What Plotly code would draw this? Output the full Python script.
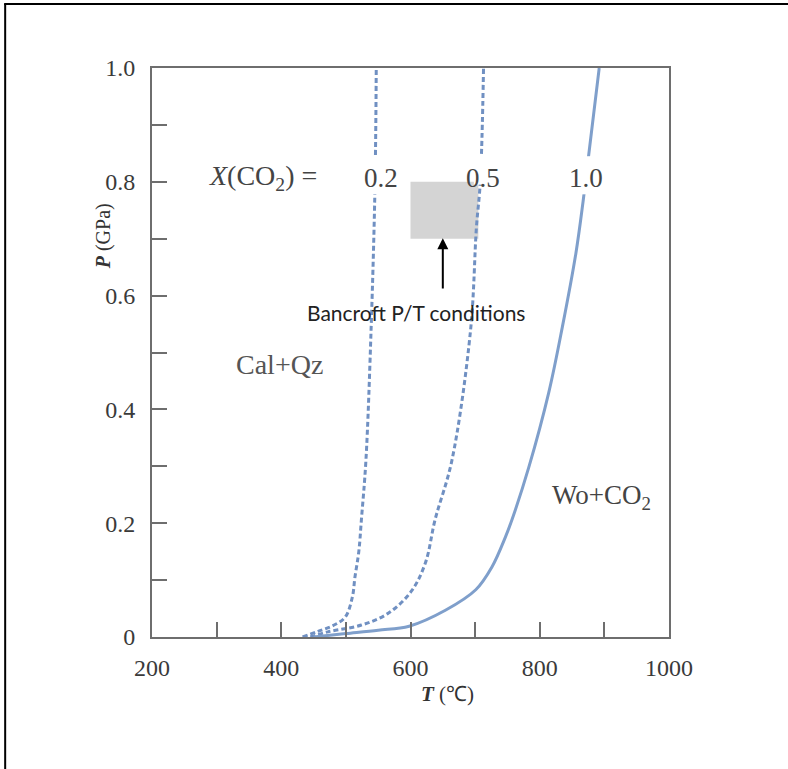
import plotly.graph_objects as go

# ---- data ----
T_x02 = [433, 457, 480, 499, 510, 514, 520, 524, 531, 539, 545, 547]
P_x02 = [0.0, 0.01, 0.02, 0.035, 0.07, 0.105, 0.15, 0.206, 0.31, 0.54, 0.79, 1.0]

T_x05 = [445, 472, 524, 566, 601, 623, 638, 664, 693, 702, 708, 713]
P_x05 = [0.0, 0.009, 0.021, 0.042, 0.08, 0.13, 0.206, 0.31, 0.54, 0.72, 0.8, 1.0]

T_x10 = [450, 500, 550, 598, 654, 701, 726, 747, 757, 783, 814, 835, 856, 867, 875, 892]
P_x10 = [0.0, 0.006, 0.012, 0.019, 0.047, 0.083, 0.123, 0.176, 0.206, 0.298, 0.43,
         0.545, 0.675, 0.765, 0.84, 1.0]

x_ticks = [200, 300, 400, 500, 600, 700, 800, 900, 1000]
x_ticktext = ["200", " ", "400", " ", "600", " ", "800", " ", "1000"]
y_ticks = [0, 0.1, 0.2, 0.3, 0.4, 0.5, 0.6, 0.7, 0.8, 0.9, 1.0]
y_ticktext = ["0", " ", "0.2", " ", "0.4", " ", "0.6", " ", "0.8", " ", "1.0"]

bancroft_T = [600, 705]
bancroft_P = [0.7, 0.8]
label_P = 0.807
curve_labels = [("0.2", 554), ("0.5", 712), ("1.0", 872)]

SERIF = "Liberation Serif, Times New Roman, serif"
DASH_COL = "#7090c2"
SOLID_COL = "#7f9fcb"

fig = go.Figure()
fig.add_trace(go.Scatter(x=T_x02, y=P_x02, mode="lines", line=dict(color=DASH_COL, width=3, dash="5px,3px"),
                         line_shape="spline", showlegend=False, hoverinfo="skip"))
fig.add_trace(go.Scatter(x=T_x05, y=P_x05, mode="lines", line=dict(color=DASH_COL, width=3, dash="5px,3px"),
                         line_shape="spline", showlegend=False, hoverinfo="skip"))
fig.add_trace(go.Scatter(x=T_x10, y=P_x10, mode="lines", line=dict(color=SOLID_COL, width=3),
                         line_shape="spline", showlegend=False, hoverinfo="skip"))

shapes = []
# gray box
shapes.append(dict(type="rect", xref="x", yref="y", x0=bancroft_T[0], x1=bancroft_T[1],
                   y0=bancroft_P[0], y1=bancroft_P[1], fillcolor="#d4d4d4", line=dict(width=0), layer="below"))
# white gaps behind curve labels
for txt, t in curve_labels:
    y0 = 0.795 if txt == "0.5" else 0.778
    shapes.append(dict(type="rect", xref="x", yref="y", x0=t - 14, x1=t + 14, y0=y0, y1=0.845,
                       fillcolor="white", line=dict(width=0), layer="above"))
# outer image border (left and top)
shapes.append(dict(type="line", xref="paper", yref="paper", x0=-0.284, x1=-0.284, y0=1.1125, y1=-0.25,
                   line=dict(color="black", width=2)))
shapes.append(dict(type="line", xref="paper", yref="paper", x0=-0.286, x1=1.25, y0=1.1125, y1=1.1125,
                   line=dict(color="black", width=2)))

annotations = []
for txt, t in curve_labels:
    annotations.append(dict(x=t, y=label_P, xref="x", yref="y", text=txt, showarrow=False,
                            font=dict(family=SERIF, size=27, color="#444444")))
annotations.append(dict(x=372, y=label_P, xref="x", yref="y", text="<i>X</i>(CO<sub>2</sub>) =",
                        showarrow=False, font=dict(family=SERIF, size=28, color="#444444")))
annotations.append(dict(x=650, y=0.701, ax=650, ay=0.61, xref="x", yref="y", axref="x", ayref="y",
                        text="", showarrow=True, arrowhead=2, arrowsize=1.1, arrowwidth=2, arrowcolor="black"))
annotations.append(dict(x=608, y=0.57, xref="x", yref="y", text="Bancroft P/T conditions", showarrow=False,
                        font=dict(family="Lato, sans-serif", size=21, color="#222222")))
annotations.append(dict(x=398, y=0.479, xref="x", yref="y", text="Cal+Qz", showarrow=False,
                        font=dict(family=SERIF, size=28, color="#555555")))
annotations.append(dict(x=895, y=0.246, xref="x", yref="y", text="Wo+CO<sub>2</sub>", showarrow=False,
                        font=dict(family=SERIF, size=27, color="#444444")))
annotations.append(dict(x=-0.094, y=0.705, xref="paper", yref="paper", xanchor="center", yanchor="middle",
                        text="<b><i>P</i></b> (GPa)", textangle=-90, showarrow=False,
                        font=dict(family=SERIF, size=20, color="#333333")))
annotations.append(dict(x=0.571, y=-0.1, xref="paper", yref="paper", xanchor="center", yanchor="middle",
                        text="<b><i>T</i></b> (℃)", showarrow=False,
                        font=dict(family=SERIF, size=21, color="#333333")))

fig.update_layout(
    width=788, height=769,
    margin=dict(l=152, r=119, t=68, b=132),
    paper_bgcolor="white", plot_bgcolor="white",
    shapes=shapes, annotations=annotations,
    xaxis=dict(range=[200, 1000], tickvals=x_ticks, ticktext=x_ticktext, ticks="inside", ticklen=15,
               tickwidth=2, tickcolor="#6e6e6e", showline=True, linecolor="#6e6e6e", linewidth=2, mirror=True,
               showgrid=False, zeroline=False, ticklabelstandoff=8,
               tickfont=dict(family=SERIF, size=24, color="#3a3a3a")),
    yaxis=dict(range=[0, 1.0], tickvals=y_ticks, ticktext=y_ticktext, ticks="inside", ticklen=15,
               tickwidth=2, tickcolor="#6e6e6e", showline=True, linecolor="#6e6e6e", linewidth=2, mirror=True,
               showgrid=False, zeroline=False, ticklabelstandoff=10,
               tickfont=dict(family=SERIF, size=24, color="#3a3a3a")),
)

fig.write_html("out.html")
